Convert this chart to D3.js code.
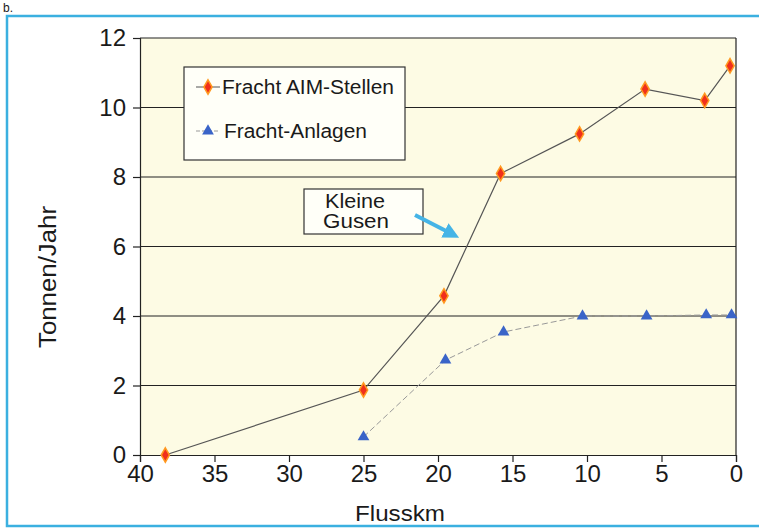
<!DOCTYPE html>
<html>
<head>
<meta charset="utf-8">
<script src="https://cdn.jsdelivr.net/npm/d3@7"></script>
<style>
  body { margin: 0; background: #fff; }
  text { font-family: "Liberation Sans", Arial, sans-serif; fill: #1a1a1a; }
</style>
</head>
<body>
<div id="chart"></div>
<script>
// Flusskm positions and loads (Tonnen/Jahr)
const aimKm = [38.3, 25, 19.6, 15.8, 10.5, 6.1, 2.1, 0.4];
const aimLoad = [0, 1.87, 4.58, 8.1, 9.24, 10.53, 10.2, 11.2];
const anlagenKm = [25, 19.5, 15.6, 10.3, 6.0, 2.0, 0.3];
const anlagenLoad = [0.52, 2.73, 3.54, 4.0, 4.0, 4.03, 4.03];
const xTicks = [40, 35, 30, 25, 20, 15, 10, 5, 0];
const yTicks = [0, 2, 4, 6, 8, 10, 12];

const width = 759;
const height = 529;
const plot = { left: 140, right: 736, top: 38, bottom: 455 };

const svg = d3.select('#chart').append('svg')
  .attr('width', width)
  .attr('height', height);

// outer blue frame
svg.append('rect')
  .attr('x', 7).attr('y', 16)
  .attr('width', 760).attr('height', 510)
  .attr('fill', 'none')
  .attr('stroke', '#3bb0e0')
  .attr('stroke-width', 2.5);

svg.append('text')
  .attr('x', 3).attr('y', 12)
  .style('font-size', '12px')
  .text('b.');

const x = d3.scaleLinear().domain([40, 0]).range([plot.left, plot.right]);
const y = d3.scaleLinear().domain([0, 12]).range([plot.bottom, plot.top]);

// plot background
svg.append('rect')
  .attr('x', plot.left).attr('y', plot.top)
  .attr('width', plot.right - plot.left)
  .attr('height', plot.bottom - plot.top)
  .attr('fill', '#fdfbe4');

// gridlines
svg.append('g')
  .selectAll('line')
  .data(yTicks.filter(d => d > 0))
  .enter()
  .append('line')
  .attr('x1', plot.left).attr('x2', plot.right)
  .attr('y1', d => y(d)).attr('y2', d => y(d))
  .attr('stroke', '#222')
  .attr('stroke-width', 1.2);

// right border
svg.append('line')
  .attr('x1', plot.right).attr('x2', plot.right)
  .attr('y1', plot.top).attr('y2', plot.bottom)
  .attr('stroke', '#222').attr('stroke-width', 1.2);

const yAxis = svg.append('g')
  .attr('transform', `translate(${plot.left},0)`)
  .call(d3.axisLeft(y).tickValues(yTicks).tickSize(7).tickPadding(7));

const xAxis = svg.append('g')
  .attr('transform', `translate(0,${plot.bottom})`)
  .call(d3.axisBottom(x).tickValues(xTicks).tickSize(7).tickPadding(3));

[yAxis, xAxis].forEach(ax => {
  ax.select('.domain').attr('stroke', '#222').attr('stroke-width', 1.2);
  ax.selectAll('.tick line').attr('stroke', '#222').attr('stroke-width', 1.2);
  ax.selectAll('.tick text')
    .style('font-size', '24px')
    .style('font-family', '"Liberation Sans", Arial, sans-serif')
    .attr('fill', '#1a1a1a');
});

svg.append('text')
  .attr('transform', `translate(56,277) rotate(-90)`)
  .attr('text-anchor', 'middle')
  .style('font-size', '23px')
  .attr('textLength', 142)
  .attr('lengthAdjust', 'spacingAndGlyphs')
  .text('Tonnen/Jahr');

svg.append('text')
  .attr('x', 400).attr('y', 521)
  .attr('text-anchor', 'middle')
  .style('font-size', '22px')
  .attr('textLength', 90)
  .attr('lengthAdjust', 'spacingAndGlyphs')
  .text('Flusskm');

const aimData = aimKm.map((k, i) => ({ km: k, v: aimLoad[i] }));
const anlagenData = anlagenKm.map((k, i) => ({ km: k, v: anlagenLoad[i] }));

const line = d3.line().x(d => x(d.km)).y(d => y(d.v));

svg.append('path')
  .datum(anlagenData)
  .attr('d', line)
  .attr('fill', 'none')
  .attr('stroke', '#999')
  .attr('stroke-width', 1)
  .attr('stroke-dasharray', '6,3');

svg.append('path')
  .datum(aimData)
  .attr('d', line)
  .attr('fill', 'none')
  .attr('stroke', '#555')
  .attr('stroke-width', 1.2);

const diamond = d3.symbol().type(d3.symbolDiamond).size(60);
const triangle = d3.symbol().type(d3.symbolTriangle).size(60);

svg.append('g')
  .selectAll('path')
  .data(aimData)
  .enter()
  .append('path')
  .attr('d', diamond)
  .attr('transform', d => `translate(${x(d.km)},${y(d.v)})`)
  .attr('fill', '#f0301c')
  .attr('stroke', '#ff9a20')
  .attr('stroke-width', 1.5);

svg.append('g')
  .selectAll('path')
  .data(anlagenData)
  .enter()
  .append('path')
  .attr('d', triangle)
  .attr('transform', d => `translate(${x(d.km)},${y(d.v)})`)
  .attr('fill', '#3a64c8');

// legend
const legend = svg.append('g').attr('transform', 'translate(184,67)');
legend.append('rect')
  .attr('width', 221).attr('height', 93)
  .attr('fill', '#fffff8')
  .attr('stroke', '#333')
  .attr('stroke-width', 1.2);

legend.append('line')
  .attr('x1', 12).attr('x2', 36).attr('y1', 20).attr('y2', 20)
  .attr('stroke', '#555');
legend.append('path')
  .attr('d', diamond)
  .attr('transform', 'translate(24,20)')
  .attr('fill', '#f0301c')
  .attr('stroke', '#ff9a20')
  .attr('stroke-width', 1.5);
legend.append('text')
  .attr('x', 38).attr('y', 27)
  .style('font-size', '20px')
  .attr('textLength', 172)
  .attr('lengthAdjust', 'spacingAndGlyphs')
  .text('Fracht AIM-Stellen');

legend.append('line')
  .attr('x1', 12).attr('x2', 36).attr('y1', 64).attr('y2', 64)
  .attr('stroke', '#999')
  .attr('stroke-dasharray', '4,2');
legend.append('path')
  .attr('d', triangle)
  .attr('transform', 'translate(24,64)')
  .attr('fill', '#3a64c8');
legend.append('text')
  .attr('x', 40).attr('y', 71)
  .style('font-size', '20px')
  .attr('textLength', 143)
  .attr('lengthAdjust', 'spacingAndGlyphs')
  .text('Fracht-Anlagen');

// annotation
const note = svg.append('g').attr('transform', 'translate(304,189)');
note.append('rect')
  .attr('width', 119).attr('height', 45)
  .attr('fill', '#fffff8')
  .attr('stroke', '#333')
  .attr('stroke-width', 1.2);
note.append('text')
  .attr('x', 51).attr('y', 19)
  .attr('text-anchor', 'middle')
  .style('font-size', '20px')
  .attr('textLength', 60)
  .attr('lengthAdjust', 'spacingAndGlyphs')
  .text('Kleine');
note.append('text')
  .attr('x', 52).attr('y', 39)
  .attr('text-anchor', 'middle')
  .style('font-size', '20px')
  .attr('textLength', 66)
  .attr('lengthAdjust', 'spacingAndGlyphs')
  .text('Gusen');

svg.append('defs').append('marker')
  .attr('id', 'arrow')
  .attr('viewBox', '0 0 10 10')
  .attr('refX', 5).attr('refY', 5)
  .attr('markerWidth', 4).attr('markerHeight', 4)
  .attr('orient', 'auto')
  .append('path')
  .attr('d', 'M0,0L10,5L0,10z')
  .attr('fill', '#45b4e6');

svg.append('line')
  .attr('x1', 415).attr('y1', 215)
  .attr('x2', 452).attr('y2', 234)
  .attr('stroke', '#45b4e6')
  .attr('stroke-width', 4)
  .attr('marker-end', 'url(#arrow)');
</script>
</body>
</html>
